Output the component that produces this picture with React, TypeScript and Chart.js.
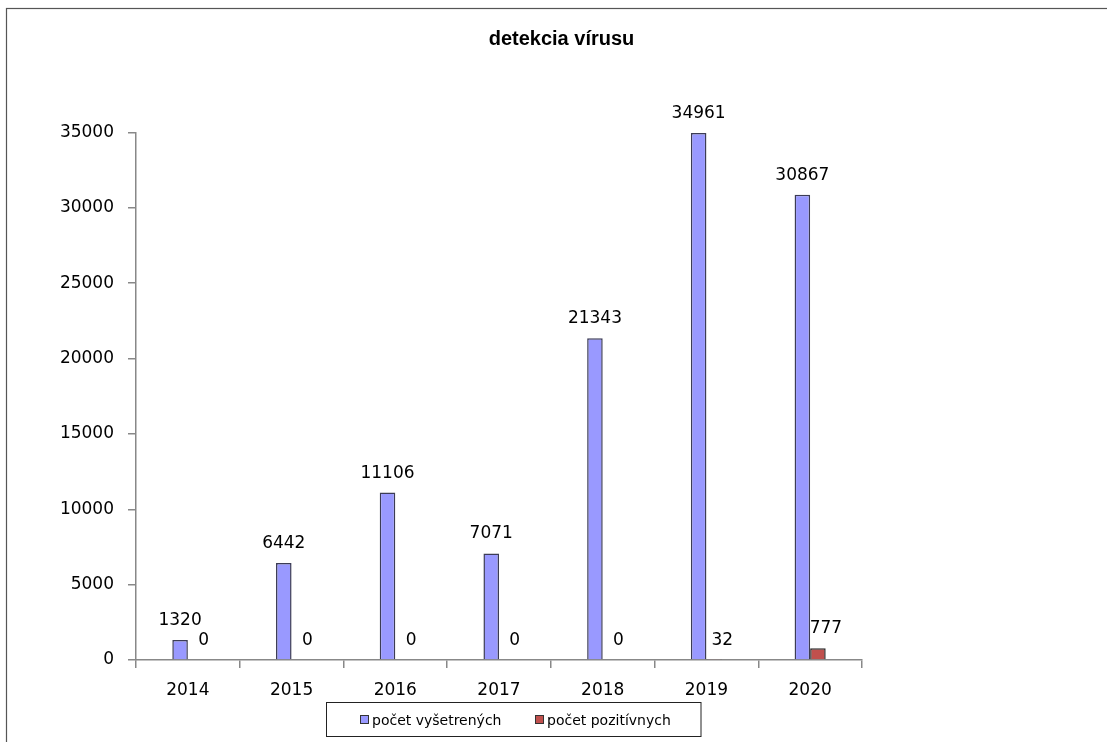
import React, { useEffect, useRef } from 'react';
import { Chart, registerables } from 'chart.js';

Chart.register(...registerables);

const chartTitle = 'detekcia vírusu';
const categories = ['2014', '2015', '2016', '2017', '2018', '2019', '2020'];
const seriesNames = ['počet vyšetrených', 'počet pozitívnych'];
const examined = [1320, 6442, 11106, 7071, 21343, 34961, 30867];
const positive = [0, 0, 0, 0, 0, 32, 777];
const yMin = 0;
const yMax = 35000;
const yStep = 5000;

const seriesColors = ['#9999FF', '#C0504D'];
const FONT = "'DejaVu Sans', sans-serif";

export default function App() {
  const ref = useRef<HTMLCanvasElement | null>(null);

  useEffect(() => {
    const canvas = ref.current;
    if (!canvas) return;

    const framePlugin = {
      id: 'frame',
      beforeDraw(chart: any) {
        const ctx = chart.ctx;
        ctx.save();
        ctx.fillStyle = '#ffffff';
        ctx.fillRect(0, 0, chart.width, chart.height);
        ctx.strokeStyle = '#555555';
        ctx.lineWidth = 1.2;
        ctx.strokeRect(6.5, 8.5, chart.width + 50, chart.height + 50);
        ctx.restore();
      },
    };

    const labelPlugin = {
      id: 'valueLabels',
      afterDatasetsDraw(chart: any) {
        const ctx = chart.ctx;
        ctx.save();
        ctx.font = `17px ${FONT}`;
        ctx.fillStyle = '#000000';
        ctx.textBaseline = 'alphabetic';
        ctx.textAlign = 'center';
        chart.data.datasets.forEach((ds: any, di: number) => {
          const meta = chart.getDatasetMeta(di);
          meta.data.forEach((el: any, i: number) => {
            const v = ds.data[i];
            const dx = di === 1 ? 8 : 0;
            ctx.fillText(String(v), el.x + dx, el.y - 15);
          });
        });
        ctx.restore();
      },
    };

    const titleLegendPlugin = {
      id: 'titleLegend',
      afterDraw(chart: any) {
        const ctx = chart.ctx;
        ctx.save();
        ctx.font = `bold 20px 'Liberation Sans', Arial, sans-serif`;
        ctx.fillStyle = '#000000';
        ctx.textAlign = 'center';
        ctx.textBaseline = 'alphabetic';
        ctx.fillText(chartTitle, 561.5, 45);

        const bx = 326.5, by = 702.5, bw = 374.5, bh = 34;
        ctx.strokeStyle = '#222222';
        ctx.lineWidth = 1;
        ctx.strokeRect(bx, by, bw, bh);
        ctx.font = `14px ${FONT}`;
        ctx.textAlign = 'left';
        const starts = [360, 535];
        chart.data.datasets.forEach((ds: any, di: number) => {
          const sx = starts[di];
          ctx.fillStyle = ds.backgroundColor;
          ctx.fillRect(sx, 715, 9, 9);
          ctx.strokeStyle = '#333333';
          ctx.strokeRect(sx + 0.5, 715.5, 8, 8);
          ctx.fillStyle = '#000000';
          ctx.fillText(ds.label, sx + 12, 725);
        });
        ctx.restore();
      },
    };

    const chart = new Chart(canvas, {
      type: 'bar',
      data: {
        labels: categories,
        datasets: [
          {
            label: seriesNames[0],
            data: examined,
            backgroundColor: seriesColors[0],
            borderColor: '#3c3c55',
            borderWidth: 1.5,
          },
          {
            label: seriesNames[1],
            data: positive,
            backgroundColor: seriesColors[1],
            borderColor: '#2a2a2a',
            borderWidth: 1.5,
          },
        ],
      },
      options: {
        responsive: false,
        animation: false,
        devicePixelRatio: 1,
        layout: { padding: { top: 132.5, right: 245, bottom: 0, left: 0 } },
        datasets: {
          bar: { categoryPercentage: 0.3, barPercentage: 1.0 },
        },
        plugins: {
          legend: { display: false },
          title: { display: false },
          tooltip: { enabled: false },
        },
        scales: {
          x: {
            offset: true,
            grid: {
              offset: true,
              drawOnChartArea: false,
              drawTicks: true,
              tickLength: 8,
              color: '#888888',
              lineWidth: 1.5,
            },
            border: { display: true, color: '#888888', width: 1.5 },
            ticks: {
              font: { family: FONT, size: 17 },
              color: '#000000',
              padding: 12,
              maxRotation: 0,
              autoSkip: false,
            },
            afterFit(scale: any) {
              scale.height = 82;
            },
          },
          y: {
            min: yMin,
            max: yMax,
            grid: {
              drawOnChartArea: false,
              drawTicks: true,
              tickLength: 8,
              color: '#888888',
              lineWidth: 1.5,
            },
            border: { display: true, color: '#888888', width: 1.5 },
            ticks: {
              stepSize: yStep,
              font: { family: FONT, size: 17 },
              color: '#000000',
              padding: 14,
              callback: (v: any) => String(v),
            },
            afterFit(scale: any) {
              scale.width = 136;
            },
          },
        },
      },
      plugins: [framePlugin, labelPlugin, titleLegendPlugin],
    });

    return () => chart.destroy();
  }, []);

  return (
    <div style={{ position: 'fixed', left: 0, top: 0, width: 1107, height: 742, background: '#fff' }}>
      <canvas ref={ref} width={1107} height={742} style={{ width: 1107, height: 742, display: 'block' }} />
    </div>
  );
}
